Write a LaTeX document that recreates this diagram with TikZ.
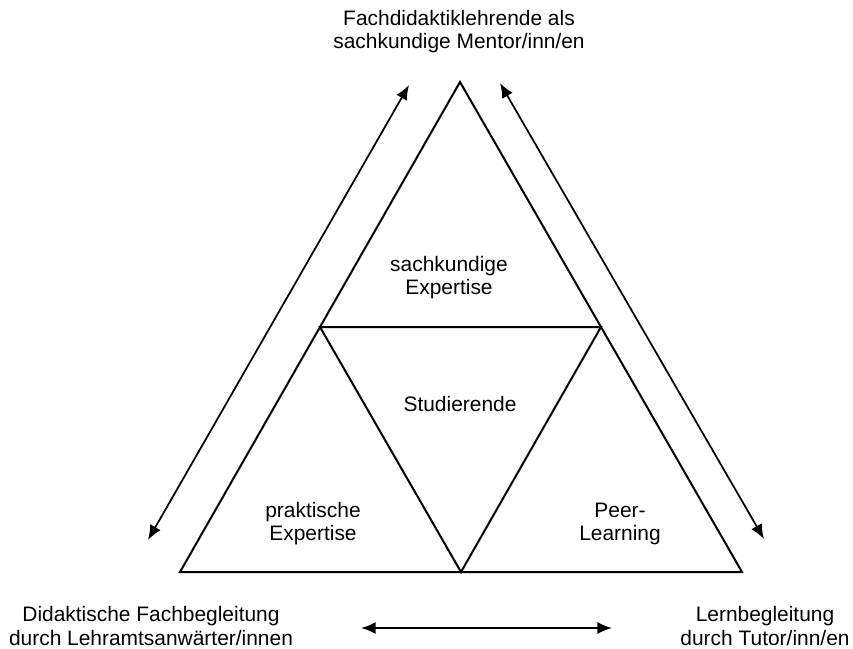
\documentclass[tikz,border=0pt]{standalone}
\usepackage{fontspec}
\setmainfont{Liberation Sans}
\usetikzlibrary{arrows.meta}
\begin{document}
\begin{tikzpicture}[x=0.75pt,y=-0.75pt,
  edge/.style={line width=1.5pt,line join=miter},
  twoway/.style={line width=1.3pt,{Latex[length=11pt,width=9pt]}-{Latex[length=11pt,width=9pt]}},
  lbl/.style={align=center,inner sep=0pt,font=\fontsize{15.7pt}{17.3pt}\selectfont}]
\useasboundingbox (0,0) rectangle (853,649);
% corners of the outer triangle and midpoints of its sides
\coordinate (top) at (460,82);
\coordinate (bl) at (180,572);
\coordinate (br) at (742,572);
\coordinate (ml) at (320,327);
\coordinate (mr) at (601,327);
\coordinate (mb) at (461,572);
\draw[edge] (top) -- (br) -- (bl) -- cycle;
\draw[edge] (ml) -- (mr) -- (mb) -- cycle;
% end points of the double arrows
\coordinate (la1) at (148,540);
\coordinate (la2) at (409,85);
\coordinate (ra1) at (500,83);
\coordinate (ra2) at (764,539);
\coordinate (ba1) at (361,628);
\coordinate (ba2) at (612,628);
\draw[twoway] (la1) -- (la2);
\draw[twoway] (ra1) -- (ra2);
\draw[twoway] (ba1) -- (ba2);
% labels
\node[lbl] (mentor) at (459,32) {Fachdidaktiklehrende als\\sachkundige Mentor/inn/en};
\node[lbl] (sach) at (449,278) {sachkundige\\Expertise};
\node[lbl] (stud) at (460,404) {Studierende};
\node[lbl] (prak) at (313,524) {praktische\\Expertise};
\node[lbl] (peer) at (620,524) {Peer-\\Learning};
\node[lbl] (didak) at (151,626) {Didaktische Fachbegleitung\\durch Lehramtsanwärter/innen};
\node[lbl] (lern) at (765,626) {Lernbegleitung\\durch Tutor/inn/en};
\end{tikzpicture}
\end{document}
